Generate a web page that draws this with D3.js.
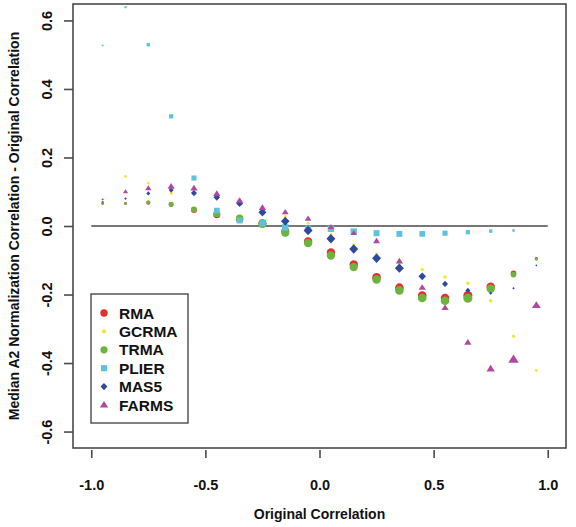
<!DOCTYPE html>
<html>
<head>
<meta charset="utf-8">
<script src="https://cdn.jsdelivr.net/npm/d3@7"></script>
<style>
  html, body { margin: 0; padding: 0; background: #fff; }
  svg { display: block; }
  text { font-family: "Liberation Sans", Arial, sans-serif; font-weight: bold; fill: #111; }
</style>
</head>
<body>
<svg id="chart" width="576" height="527"></svg>
<script>
// ---------- data ----------
const bins = [-0.95,-0.85,-0.75,-0.65,-0.55,-0.45,-0.35,-0.25,-0.15,-0.05,
               0.05, 0.15, 0.25, 0.35, 0.45, 0.55, 0.65, 0.75, 0.85, 0.95];

const seriesNames = ["RMA","GCRMA","TRMA","PLIER","MAS5","FARMS"];

const rmaValues   = [0.066,0.066,0.068,0.063,0.047,0.033,0.020,0.008,-0.016,-0.045,-0.077,-0.112,-0.150,-0.180,-0.203,-0.210,-0.203,-0.177,-0.138,-0.095];
const gcrmaValues = [0.072,0.145,0.125,0.095,0.095,0.085,0.070,0.048,0.028,0.008,-0.025,-0.055,-0.081,-0.110,-0.127,-0.149,-0.167,-0.218,-0.322,-0.422];
const trmaValues  = [0.066,0.066,0.069,0.063,0.048,0.036,0.023,0.006,-0.020,-0.050,-0.086,-0.120,-0.156,-0.188,-0.210,-0.218,-0.211,-0.183,-0.142,-0.097];
const plierValues = [0.527,0.639,0.529,0.320,0.140,0.045,0.016,0.008,-0.004,-0.008,-0.008,-0.016,-0.021,-0.023,-0.023,-0.021,-0.018,-0.015,-0.013,null];
const mas5Values  = [0.070,0.080,0.095,0.105,0.096,0.084,0.066,0.040,0.014,-0.013,-0.037,-0.067,-0.094,-0.123,-0.147,-0.169,-0.188,-0.196,-0.182,-0.115];
const farmsValues = [0.078,0.100,0.110,0.115,0.110,0.094,0.074,0.053,0.040,0.021,-0.003,-0.021,-0.044,-0.103,-0.180,-0.239,-0.340,-0.417,-0.390,-0.232];

// relative number of gene pairs per bin (drives marker area)
const rmaCount   = [17,22,40,62,90,122,137,160,160,176,176,176,185,185,185,185,202,176,78,22];
const gcrmaCount = [14,20,20,22,22,22,22,22,22,22,22,22,26,26,32,32,32,32,29,22];
const trmaCount  = [17,22,40,62,90,122,137,160,160,176,176,176,185,185,185,185,202,176,78,22];
const plierCount = [10,17,40,62,90,109,122,137,144,144,144,137,122,122,109,90,62,40,22,0];
const mas5Count  = [10,17,40,62,90,109,122,160,185,202,202,202,202,202,144,90,62,26,14,10];
const farmsCount = [17,62,90,122,122,122,122,122,102,102,90,90,109,122,122,122,122,160,250,176];

const xTicks = [-1.0,-0.5,0.0,0.5,1.0];
const yTicks = [-0.6,-0.4,-0.2,0.0,0.2,0.4,0.6];

// ---------- setup ----------
const svg = d3.select("#chart");
const plot = {left: 73, right: 566, top: 4, bottom: 448};

const x = d3.scaleLinear().domain([-1.08, 1.08]).range([plot.left, plot.right]);
const y = d3.scaleLinear().domain([-0.648, 0.648]).range([plot.bottom, plot.top]);
const rScale = d3.scaleSqrt().domain([0, 250]).range([0, 5]);
const fmt = d => d3.format(".1f")(d).replace("\u2212", "-");

const colors = {
  RMA: "#e5302b", GCRMA: "#ecea3a", TRMA: "#6cb43f",
  PLIER: "#5cc3d8", MAS5: "#2f4a9c", FARMS: "#b0489f"
};

// custom symbols: "size" = radius squared
const shapes = {
  circle: { draw(ctx, s) { const r = Math.sqrt(s); ctx.moveTo(r, 0); ctx.arc(0, 0, r, 0, 2 * Math.PI); } },
  square: { draw(ctx, s) { const h = Math.sqrt(s) * 0.85; ctx.rect(-h, -h, 2 * h, 2 * h); } },
  diamond:{ draw(ctx, s) { const d = Math.sqrt(s) * 1.05; ctx.moveTo(0, -d); ctx.lineTo(d * 0.95, 0); ctx.lineTo(0, d); ctx.lineTo(-d * 0.95, 0); ctx.closePath(); } },
  triangle:{ draw(ctx, s) { const w = Math.sqrt(s) * 1.05; const h = w * 1.0; ctx.moveTo(0, -h * 0.95); ctx.lineTo(w, h * 0.6); ctx.lineTo(-w, h * 0.6); ctx.closePath(); } }
};

const series = [
  {name: "RMA",   values: rmaValues,   counts: rmaCount,   shape: "circle",   legendR: 3.7},
  {name: "GCRMA", values: gcrmaValues, counts: gcrmaCount, shape: "circle",   legendR: 2.1},
  {name: "TRMA",  values: trmaValues,  counts: trmaCount,  shape: "circle",   legendR: 3.6},
  {name: "PLIER", values: plierValues, counts: plierCount, shape: "square",   legendR: 3.6},
  {name: "MAS5",  values: mas5Values,  counts: mas5Count,  shape: "diamond",  legendR: 3.4},
  {name: "FARMS", values: farmsValues, counts: farmsCount, shape: "triangle", legendR: 4.0}
];

// ---------- zero reference line ----------
svg.append("line")
  .attr("x1", x(-1)).attr("x2", x(1))
  .attr("y1", y(0)).attr("y2", y(0))
  .attr("stroke", "#777").attr("stroke-width", 2);

// ---------- points ----------
series.forEach(s => {
  const pts = bins.map((b, i) => ({x: b, y: s.values[i], n: s.counts[i]}))
                  .filter(d => d.y !== null && d.n > 0);
  const sym = d3.symbol().type(shapes[s.shape]);
  svg.append("g").selectAll("path").data(pts).enter().append("path")
    .attr("transform", d => `translate(${x(d.x)},${y(d.y)})`)
    .attr("d", d => sym.size(Math.pow(rScale(d.n), 2))())
    .attr("fill", colors[s.name]);
});

// ---------- frame ----------
svg.append("rect")
  .attr("x", plot.left).attr("y", plot.top)
  .attr("width", plot.right - plot.left).attr("height", plot.bottom - plot.top)
  .attr("fill", "none").attr("stroke", "#4a4a4a").attr("stroke-width", 1.6);

// ---------- axes ----------
const xAxis = d3.axisBottom(x).tickValues(xTicks).tickSize(8).tickPadding(22).tickFormat(fmt);
const gx = svg.append("g").attr("transform", `translate(0,${plot.bottom + 2})`).call(xAxis);
gx.select(".domain").remove();
gx.selectAll(".tick line").attr("stroke", "#4a4a4a").attr("stroke-width", 1.6);
gx.selectAll(".tick text").attr("font-size", 14.5).attr("fill", "#111")
  .attr("font-family", "Liberation Sans, Arial, sans-serif").attr("font-weight", "bold");

const yAxis = d3.axisLeft(y).tickValues(yTicks).tickSize(9).tickFormat(fmt);
const gy = svg.append("g").attr("transform", `translate(${plot.left},0)`).call(yAxis);
gy.select(".domain").remove();
gy.selectAll(".tick line").attr("stroke", "#4a4a4a").attr("stroke-width", 1.6);
gy.selectAll(".tick text")
  .attr("font-size", 14.5).attr("fill", "#111")
  .attr("font-family", "Liberation Sans, Arial, sans-serif").attr("font-weight", "bold")
  .attr("x", null).attr("dy", null)
  .attr("text-anchor", "middle")
  .attr("transform", "translate(-21,0) rotate(-90)")
  .attr("y", 0);

// ---------- axis titles ----------
svg.append("text")
  .attr("x", (x(-1) + x(1)) / 2).attr("y", 519)
  .attr("text-anchor", "middle").attr("font-size", 14)
  .text("Original Correlation");

svg.append("text")
  .attr("transform", `translate(19,${(plot.top + plot.bottom) / 2}) rotate(-90)`)
  .attr("text-anchor", "middle").attr("font-size", 14)
  .text("Median A2 Normalization Correlation - Original Correlation");

// ---------- legend ----------
const lg = svg.append("g");
lg.append("rect").attr("x", 91).attr("y", 294).attr("width", 97).attr("height", 129)
  .attr("fill", "#fff").attr("stroke", "#4a4a4a").attr("stroke-width", 1.4);
series.forEach((s, i) => {
  const cy = 313 + i * 18.4;
  const sym = d3.symbol().type(shapes[s.shape]).size(s.legendR * s.legendR);
  lg.append("path").attr("transform", `translate(104,${cy})`).attr("d", sym()).attr("fill", colors[s.name]);
  lg.append("text").attr("x", 119).attr("y", cy + 5.5).attr("font-size", 15.5).text(s.name);
});
</script>
</body>
</html>
